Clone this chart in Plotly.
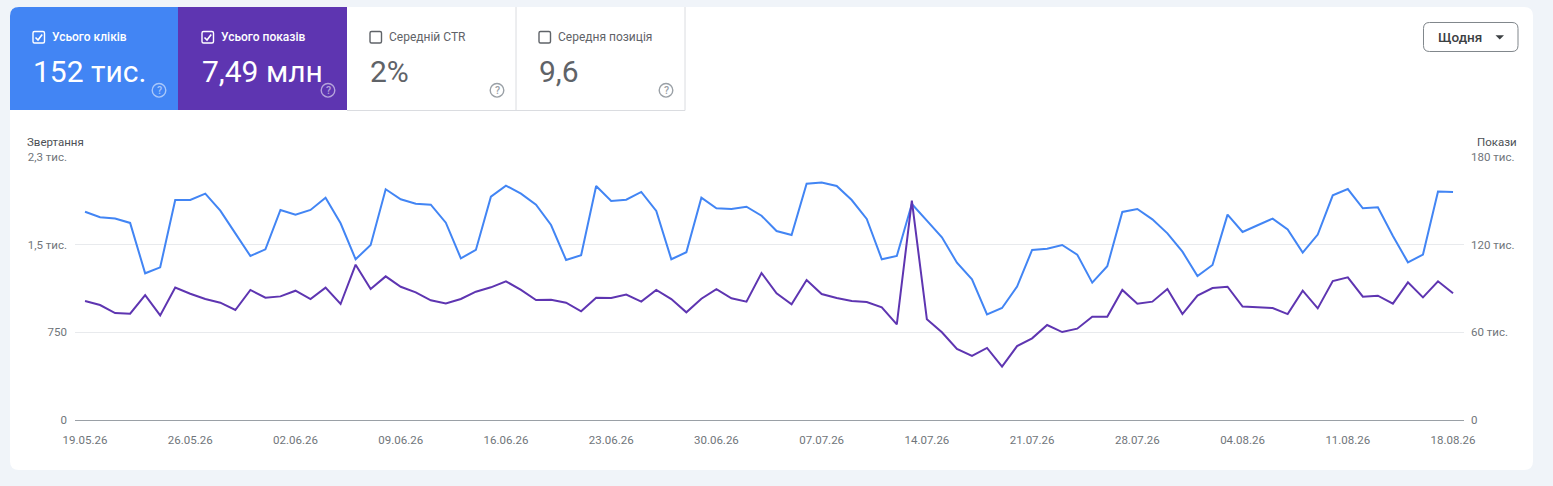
import plotly.graph_objects as go
import pandas as pd

# ---------------- data ----------------
start_date = "2026-05-19"
end_date = "2026-08-18"
dates = pd.date_range(start_date, end_date, freq="D")

clicks = [1782, 1734, 1723, 1686, 1255, 1306, 1882, 1882, 1937, 1791,
          1597, 1403, 1460, 1797, 1757, 1797, 1902, 1683, 1375, 1497,
          1974, 1888, 1851, 1842, 1688, 1383, 1455, 1911, 2005, 1937,
          1842, 1668, 1369, 1409, 2002, 1874, 1885, 1951, 1788, 1375,
          1435, 1902, 1811, 1805, 1825, 1748, 1617, 1583, 2022, 2031,
          2002, 1882, 1720, 1375, 1403, 1848, 1705, 1563, 1346, 1204,
          904, 958, 1141, 1455, 1466, 1497, 1415, 1175, 1315, 1780,
          1805, 1717, 1597, 1440, 1232, 1326, 1757, 1609, 1666, 1723,
          1631, 1432, 1586, 1922, 1976, 1811, 1820, 1574, 1349, 1415,
          1954, 1951]

impressions = [81400, 78700, 73200, 72800, 85500, 71600, 90600, 86400, 82800, 80300,
               75300, 89000, 83700, 84600, 88500, 82800, 90600, 79400, 106300, 89600,
               98300, 91200, 87400, 81900, 79800, 82800, 87800, 90800, 94900, 89000,
               82100, 82300, 80300, 74400, 83700, 83500, 85800, 81000, 89000, 82800,
               73700, 83000, 89600, 83300, 81000, 100600, 86700, 79200, 95800, 86200,
               83500, 81400, 80700, 77100, 65500, 150100, 68900, 60000, 48600, 43800,
               49300, 36500, 50600, 55900, 65000, 60200, 62500, 70700, 70700, 89000,
               79600, 81000, 89600, 72500, 85100, 90300, 91200, 77600, 77100, 76600,
               72500, 88500, 76400, 95100, 97600, 84400, 85100, 79600, 94200, 83900,
               94900, 86700]

x_ticks = ["2026-05-19", "2026-05-26", "2026-06-02", "2026-06-09", "2026-06-16",
           "2026-06-23", "2026-06-30", "2026-07-07", "2026-07-14", "2026-07-21",
           "2026-07-28", "2026-08-04", "2026-08-11", "2026-08-18"]

left_tickvals = [0, 750, 1500, 2250]
left_ticktext = ["0", "750", "1,5 тис.", "2,3 тис."]
right_tickvals = [0, 60000, 120000, 180000]
right_ticktext = ["0", "60 тис.", "120 тис.", "180 тис."]

card_labels = ["Усього кліків", "Усього показів", "Середній CTR", "Середня позиція"]
card_values = ["152 тис.", "7,49 млн", "2%", "9,6"]
card_checked = [True, True, False, False]

# ---------------- styling / geometry ----------------
W, H = 1553, 486
L, R, T, B = 75, 1464, 157, 420
BLUE = "#4285f4"
PURPLE = "#5e35b1"
PAGE_BG = "#f0f4f9"
FONT = "Roboto"


def fx(px):
    return (px - L) / (R - L)


def fy(py):
    return (B - py) / (B - T)


def pt(px, py):
    return f"{fx(px):.6f},{fy(py):.6f}"


def rrect(x0, y0, x1, y1, r, corners=(True, True, True, True)):
    tl, tr, br, bl = corners
    p = []
    p.append("M" + pt(x0 + (r if tl else 0), y0))
    if tr:
        p.append("L" + pt(x1 - r, y0))
        p.append("Q" + pt(x1, y0) + " " + pt(x1, y0 + r))
    else:
        p.append("L" + pt(x1, y0))
    if br:
        p.append("L" + pt(x1, y1 - r))
        p.append("Q" + pt(x1, y1) + " " + pt(x1 - r, y1))
    else:
        p.append("L" + pt(x1, y1))
    if bl:
        p.append("L" + pt(x0 + r, y1))
        p.append("Q" + pt(x0, y1) + " " + pt(x0, y1 - r))
    else:
        p.append("L" + pt(x0, y1))
    if tl:
        p.append("L" + pt(x0, y0 + r))
        p.append("Q" + pt(x0, y0) + " " + pt(x0 + r, y0))
    else:
        p.append("L" + pt(x0, y0))
    p.append("Z")
    return " ".join(p)


shapes = []
annotations = []

# white container
shapes.append(dict(type="path", xref="paper", yref="paper", layer="below",
                   path=rrect(10, 7, 1533, 470, 9), fillcolor="white",
                   line=dict(width=0)))
# coloured cards
shapes.append(dict(type="path", xref="paper", yref="paper", layer="below",
                   path=rrect(10, 7, 178, 110, 9, (True, False, False, False)),
                   fillcolor=BLUE, line=dict(width=0)))
shapes.append(dict(type="path", xref="paper", yref="paper", layer="below",
                   path=rrect(178, 7, 347, 110, 0, (False, False, False, False)),
                   fillcolor=PURPLE, line=dict(width=0)))
# borders of white cards
for (a, b, c, d) in [(347, 110.5, 685, 110.5), (516, 7, 516, 110.5), (685, 7, 685, 110.5)]:
    shapes.append(dict(type="line", xref="paper", yref="paper", layer="below",
                       x0=fx(a), y0=fy(b), x1=fx(c), y1=fy(d),
                       line=dict(color="#dadce0", width=1)))

card_x = [33, 202, 370, 539]
help_x = [159, 328, 497, 666]
for i in range(4):
    cx = card_x[i]
    on = card_checked[i]
    col_box = "white" if on else "#5f6368"
    # checkbox
    shapes.append(dict(type="path", xref="paper", yref="paper", layer="above",
                       path=rrect(cx, 31.5, cx + 11.5, 43, 1.5),
                       fillcolor="rgba(0,0,0,0)", line=dict(color=col_box, width=1.4)))
    if on:
        shapes.append(dict(type="path", xref="paper", yref="paper", layer="above",
                           path="M" + pt(cx + 2.5, 37.5) + " L" + pt(cx + 5, 40) + " L" + pt(cx + 9.2, 34.5),
                           line=dict(color="white", width=1.6)))
    # label
    annotations.append(dict(xref="paper", yref="paper", x=fx(cx + 16.5), y=fy(37.3),
                            xanchor="left", yanchor="middle", showarrow=False,
                            text=card_labels[i],
                            font=dict(family=FONT, size=12,
                                      color="white" if on else "#5f6368",
                                      weight=500 if on else 400)))
    # value
    annotations.append(dict(xref="paper", yref="paper", x=fx(cx - 2.5), y=fy(71),
                            xanchor="left", yanchor="middle", showarrow=False,
                            text=card_values[i],
                            font=dict(family=FONT, size=30,
                                      color="white" if on else "#5f6368")))
    # help icon
    hx = help_x[i]
    hcol = "rgba(255,255,255,0.55)" if on else "#9aa0a6"
    shapes.append(dict(type="circle", xref="paper", yref="paper", layer="above",
                       x0=fx(hx - 6.8), x1=fx(hx + 6.8), y0=fy(90.3 - 6.8), y1=fy(90.3 + 6.8),
                       line=dict(color=hcol, width=1.4), fillcolor="rgba(0,0,0,0)"))
    annotations.append(dict(xref="paper", yref="paper", x=fx(hx), y=fy(90.3),
                            xanchor="center", yanchor="middle", showarrow=False,
                            text="?", font=dict(family=FONT, size=10.5, color=hcol, weight=500)))

# "Щодня" button
shapes.append(dict(type="path", xref="paper", yref="paper", layer="above",
                   path=rrect(1423.5, 22.5, 1518, 51.5, 6),
                   fillcolor="white", line=dict(color="#80868b", width=1)))
annotations.append(dict(xref="paper", yref="paper", x=fx(1460), y=fy(37),
                        xanchor="center", yanchor="middle", showarrow=False,
                        text="Щодня", font=dict(family=FONT, size=13.5, color="#3c4043", weight=500)))
shapes.append(dict(type="path", xref="paper", yref="paper", layer="above",
                   path="M" + pt(1495.5, 35.3) + " L" + pt(1504, 35.3) + " L" + pt(1499.75, 39.5) + " Z",
                   fillcolor="#3c4043", line=dict(width=0)))

# axis titles
annotations.append(dict(xref="paper", yref="paper", x=fx(25), y=fy(141.5),
                        xanchor="left", yanchor="middle", showarrow=False,
                        text="Звертання", font=dict(family=FONT, size=11.5, color="#4d5156")))
annotations.append(dict(xref="paper", yref="paper", x=fx(1518.5), y=fy(141.5),
                        xanchor="right", yanchor="middle", showarrow=False,
                        text="Покази", font=dict(family=FONT, size=11.5, color="#4d5156")))

# ---------------- figure ----------------
fig = go.Figure()
fig.add_trace(go.Scatter(x=dates, y=clicks, mode="lines", name=card_labels[0],
                         line=dict(color=BLUE, width=2), yaxis="y"))
fig.add_trace(go.Scatter(x=dates, y=impressions, mode="lines", name=card_labels[1],
                         line=dict(color=PURPLE, width=2), yaxis="y2"))

x_start = pd.Timestamp(start_date) - pd.Timedelta(hours=16)
x_end = pd.Timestamp(end_date) + pd.Timedelta(hours=17.5)

tickfont = dict(family=FONT, size=11.5, color="#70757a")

fig.update_layout(
    width=W, height=H,
    margin=dict(l=L, r=W - R, t=T, b=H - B, pad=0),
    paper_bgcolor=PAGE_BG,
    plot_bgcolor="white",
    showlegend=False,
    font=dict(family=FONT),
    shapes=shapes,
    annotations=annotations,
    xaxis=dict(type="date", range=[x_start, x_end], tickvals=x_ticks,
               tickformat="%d.%m.%y", showgrid=False, zeroline=False,
               showline=True, linecolor="#9aa0a6", linewidth=1,
               ticks="", ticklabelstandoff=9, tickfont=tickfont, fixedrange=True),
    yaxis=dict(range=[0, 2250], tickvals=left_tickvals, ticktext=left_ticktext,
               showgrid=True, gridcolor="#e8eaed", gridwidth=1, zeroline=False,
               ticks="", ticklabelstandoff=7, tickfont=tickfont, showline=False),
    yaxis2=dict(range=[0, 180000], tickvals=right_tickvals, ticktext=right_ticktext,
                overlaying="y", side="right", showgrid=False, zeroline=False,
                ticks="", ticklabelstandoff=6, tickfont=tickfont, showline=False),
)

page_css = ("document.documentElement.style.margin='0';"
            "document.body.style.margin='0';"
            "document.body.style.padding='0';"
            "document.body.style.overflow='hidden';"
            "document.body.style.background='" + PAGE_BG + "';")

fig.write_html("out.html", post_script=page_css, config={"displayModeBar": False})
